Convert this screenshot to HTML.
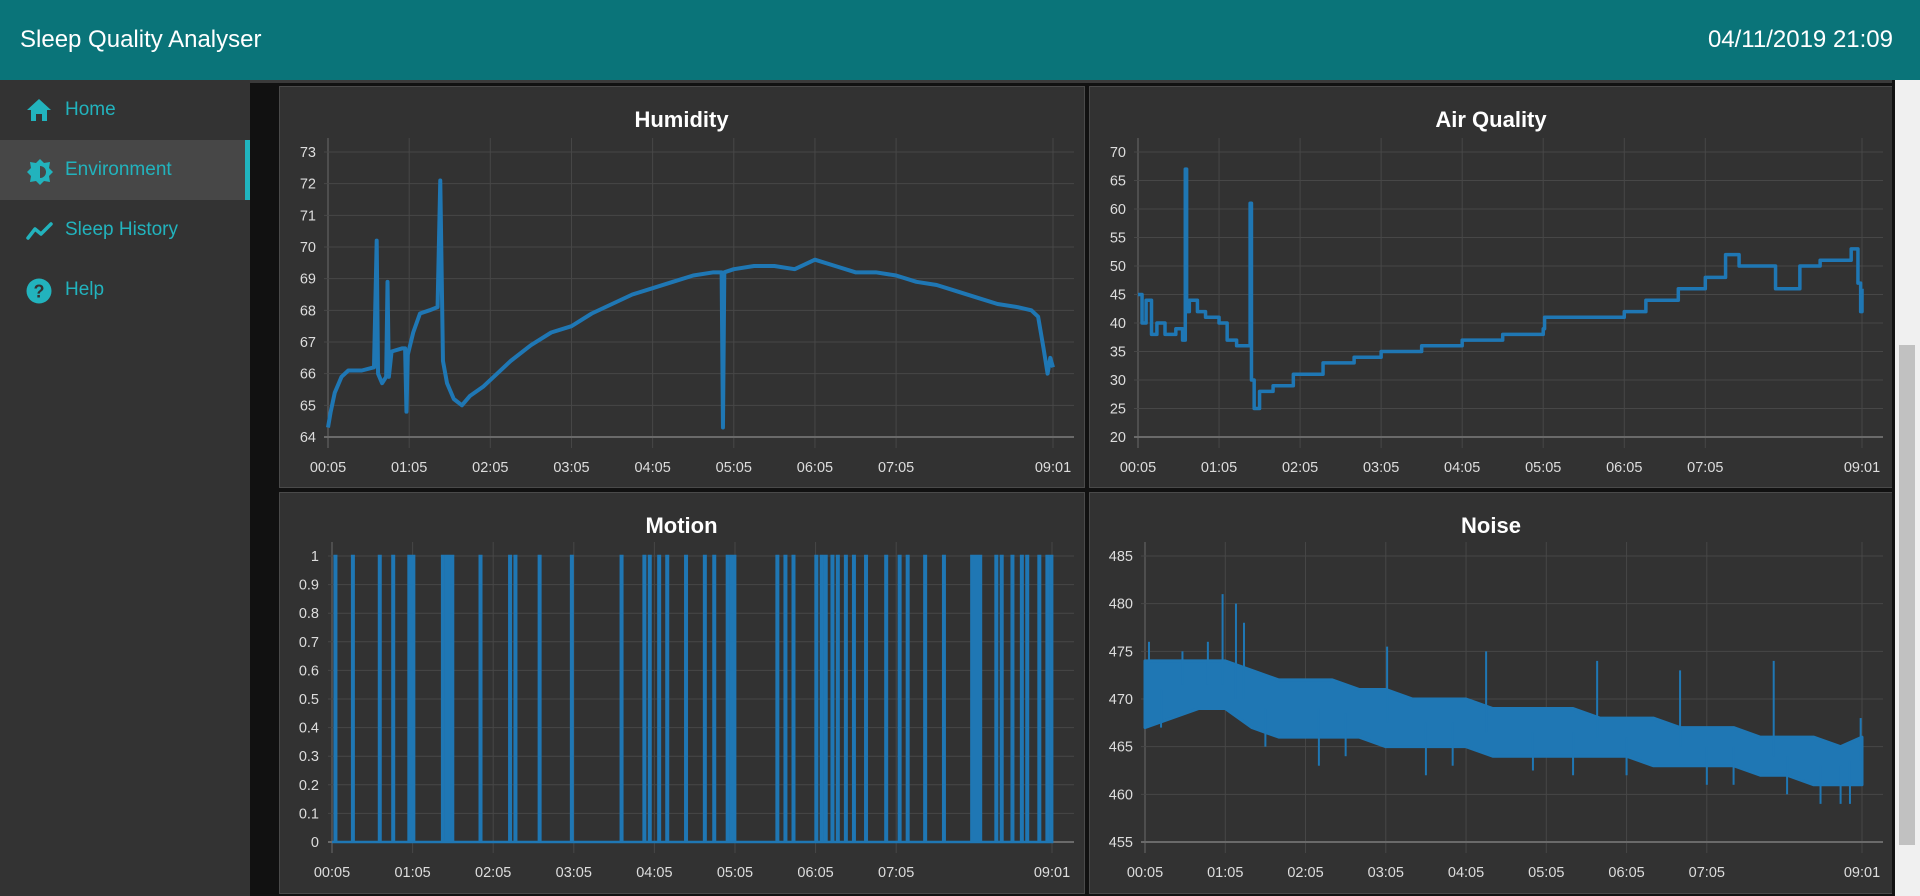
<!DOCTYPE html>
<html><head><meta charset="utf-8"><style>
html,body{margin:0;padding:0;width:1920px;height:896px;overflow:hidden;background:#111;font-family:"Liberation Sans",sans-serif}
#hdr{position:absolute;left:0;top:0;width:1920px;height:80px;background:#0a7479;color:#fff}
#hdr .t{position:absolute;left:20px;top:26px;font-size:24px}
#hdr .d{position:absolute;right:27px;top:26px;font-size:24px}
#side{position:absolute;left:0;top:80px;width:250px;height:816px;background:#333}
.item{position:absolute;left:0;width:250px;height:60px;color:#22b3bd;font-size:19px}
.item span{position:absolute;left:65px;top:19px}
.item svg{position:absolute;left:26px;top:18px}
.act{background:#474747}
.act:after{content:"";position:absolute;right:0;top:0;width:5px;height:60px;background:#20b5bf}
#sb{position:absolute;left:1895px;top:80px;width:25px;height:816px;background:#f0f0f0}
#thumb{position:absolute;left:4px;top:265px;width:16px;height:500px;background:#c1c1c1}
svg#charts{position:absolute;left:0;top:0}
</style></head><body>
<div id="hdr">
<div class="t">Sleep Quality Analyser</div>
<div class="d">04/11/2019 21:09</div>
</div>
<div id="side">
<div class="item" style="top:0"><svg width="26" height="24" viewBox="0 0 26 24"><path d="M13 1 L25 12 L21 12 L21 23 L16 23 L16 16 L10 16 L10 23 L5 23 L5 12 L1 12Z" fill="#22b3bd"/></svg><span>Home</span></div>
<div class="item act" style="top:60px"><svg width="28" height="28" viewBox="0 0 28 28"><polygon points="14,1 18,5 24,4 23,10 27,14 23,18 24,24 18,23 14,27 10,23 4,24 5,18 1,14 5,10 4,4 10,5" fill="#22b3bd"/><path d="M14 8 A6 6 0 0 1 14 20Z" fill="#474747"/></svg><span>Environment</span></div>
<div class="item" style="top:120px"><svg width="28" height="24" viewBox="0 0 28 24"><polyline points="2,20 9,11 15,16 25,6" fill="none" stroke="#22b3bd" stroke-width="3.5" stroke-linecap="round" stroke-linejoin="round"/></svg><span>Sleep History</span></div>
<div class="item" style="top:180px"><svg width="26" height="26" viewBox="0 0 26 26"><circle cx="13" cy="13" r="12.5" fill="#22b3bd"/><text x="13" y="19.5" text-anchor="middle" font-size="18" font-weight="bold" fill="#333" font-family="Liberation Sans">?</text></svg><span>Help</span></div>
</div>
<div id="sb"><div id="thumb"></div></div>
<svg id="charts" width="1892" height="896"></svg>
<script>
// Humidity
const humT=[0,2,5,10,15,25,34,36,37,40,43,44,45,47,55,57,58,59,63,68,75,81,83,85,88,93,99,105,115,125,135,150,165,180,195,210,225,240,255,270,285,291,292,293,300,315,330,345,360,375,390,405,420,435,450,465,480,495,510,520,525,529,532,534,536];
const humV=[64.3,64.8,65.4,65.9,66.1,66.1,66.2,70.2,66.0,65.7,65.9,68.9,65.9,66.7,66.8,66.8,64.8,66.6,67.3,67.9,68.0,68.1,72.1,66.4,65.7,65.2,65.0,65.3,65.6,66.0,66.4,66.9,67.3,67.5,67.9,68.2,68.5,68.7,68.9,69.1,69.2,69.2,64.3,69.2,69.3,69.4,69.4,69.3,69.6,69.4,69.2,69.2,69.1,68.9,68.8,68.6,68.4,68.2,68.1,68.0,67.8,66.8,66.0,66.5,66.2];
const humTicks=[64,65,66,67,68,69,70,71,72,73];
// Air quality
const airT=[0,3,6,10,14,20,28,33,35,36,38,44,50,60,66,73,81,83,84,86,90,100,115,137,160,180,210,240,270,300,301,330,360,376,400,420,435,445,460,472,490,505,517,528,533,535,536];
const airV=[45,40,44,38,40,38,39,37,67,42,44,42,41,40,37,36,36,61,30,25,28,29,31,33,34,35,36,37,38,39,41,41,42,44,46,48,52,50,50,46,50,51,51,53,47,42,46];
const airTicks=[20,25,30,35,40,45,50,55,60,65,70];
// Motion events (minutes after 00:05 where motion=1)
const motionEvents=[2,15,35,45,57,59,60,82,85,87,89,110,132,136,154,178,215,232,236,243,249,263,277,284,294,297,299,331,337,343,360,364,367,372,376,382,388,397,412,422,428,441,455,476,478,480,482,494,498,506,513,517,526,532,535];
const motionTicks=[0,0.1,0.2,0.3,0.4,0.5,0.6,0.7,0.8,0.9,1];
// Noise band
const noiseT=[0,20,40,60,80,100,120,140,160,180,200,220,240,260,280,300,320,340,360,380,400,420,440,460,480,500,520,536];
const noiseHi=[474,474,474,474,473,472,472,472,471,471,470,470,470,469,469,469,469,468,468,468,467,467,467,466,466,466,465,466];
const noiseLo=[467,468,469,469,467,466,466,466,466,465,465,465,465,464,464,464,464,464,464,463,463,463,463,462,462,461,461,461];
const noiseSpikeT=[3,28,47,58,68,74,130,181,210,255,320,338,400,440,505,520,535,527,470,12,90,150,230,290,360,420,480];
const noiseSpikeV=[476,475,476,481,480,478,463,475.5,462,475,462,474,473,461,459,459,468,459,474,467,465,464,463,462.5,462,461,460];
const noiseTicks=[455,460,465,470,475,480,485];
const timeTickT=[0,60,120,180,240,300,360,420,536];
const timeTickL=["00:05","01:05","02:05","03:05","04:05","05:05","06:05","07:05","09:01"];

const NS="http://www.w3.org/2000/svg";
const root=document.getElementById('charts');
function mk(tag,attrs,parent){const e=document.createElementNS(NS,tag);for(const k in attrs)e.setAttribute(k,attrs[k]);(parent||root).appendChild(e);return e;}

const strip=mk('rect',{x:250,y:80,width:1645,height:3,fill:'#3a3a3a'});



function panel(name,px,py,pw,ph,title,x0,x1,yTop,yBot,vMin,vMax,ticks,lblX){
  const g=mk('g',{});
  
  
  mk('rect',{x:px+0.5,y:py+0.5,width:pw,height:ph,fill:'#323232',stroke:'#4a4a4a'},g);
  const tt=mk('text',{x:px+pw/2,y:py+41,'text-anchor':'middle',fill:'#fff','font-size':22,'font-weight':'bold','font-family':'Liberation Sans'},g);
  tt.textContent=title;
  
  
  const sx=t=>x0+(x1-x0)*t/536;
  const sy=v=>yBot-(yBot-yTop)*(v-vMin)/(vMax-vMin);
  const gridTop=yTop-14, gridBot=yBot+11, right=px+pw-10;
  timeTickT.forEach((t,i)=>{
    const l=mk('line',{x1:sx(t),x2:sx(t),y1:gridTop,y2:gridBot,stroke:i==0?'#6a6a6a':'#474747','stroke-width':1},g);
    
    
    const tx=mk('text',{x:sx(t),y:yBot+35,'text-anchor':'middle',fill:'#ddd','font-size':14.5,'font-family':'Liberation Sans'},g);
    tx.textContent=timeTickL[i];
    
    
  });
  ticks.forEach((v,i)=>{
    const l=mk('line',{x1:x0-4,x2:right,y1:sy(v),y2:sy(v),stroke:i==0?'#6a6a6a':'#474747','stroke-width':i==0?2:1},g);
    
    
    const tx=mk('text',{x:lblX,y:sy(v)+5,'text-anchor':'end',fill:'#ddd','font-size':14.5,'font-family':'Liberation Sans'},g);
    tx.textContent=String(v);
    
    
  });
  return {g,sx,sy};
}

// Humidity
let c=panel('humidity',279,86,805,401,'Humidity',328,1053,152,437,64,73,humTicks,316);
let pl=mk('polyline',{points:humT.map((t,i)=>c.sx(t)+','+c.sy(humV[i])).join(' '),fill:'none',stroke:'#1f77b4','stroke-width':4,'stroke-linejoin':'round'},c.g);



// Air quality
c=panel('air-quality',1089,86,804,401,'Air Quality',1138,1862,152,437,20,70,airTicks,1126);
let pts=[];airT.forEach((t,i)=>{if(i>0)pts.push(c.sx(t)+','+c.sy(airV[i-1]));pts.push(c.sx(t)+','+c.sy(airV[i]));});
pl=mk('polyline',{points:pts.join(' '),fill:'none',stroke:'#1f77b4','stroke-width':3.5,'stroke-linejoin':'round'},c.g);



// Motion
c=panel('motion',279,492,805,401,'Motion',332,1052,556,842,0,1,motionTicks,319);
pts=[c.sx(0)+','+c.sy(0)];
motionEvents.forEach(t=>{pts.push(c.sx(t)+','+c.sy(0),c.sx(t)+','+c.sy(1),c.sx(t)+1.5+','+c.sy(1),c.sx(t)+1.5+','+c.sy(0));});
pts.push(c.sx(536)+','+c.sy(0));
pl=mk('polyline',{points:pts.join(' '),fill:'none',stroke:'#1f77b4','stroke-width':2.5},c.g);



// Noise
c=panel('noise',1089,492,804,401,'Noise',1145,1862,556,842,455,485,noiseTicks,1133);
const bandPts=noiseT.map((t,i)=>c.sx(t)+','+c.sy(noiseHi[i])).concat(noiseT.slice().reverse().map((t,j)=>{const i=noiseT.length-1-j;return c.sx(t)+','+c.sy(noiseLo[i]);}));
pl=mk('polygon',{points:bandPts.join(' '),fill:'#1f77b4',stroke:'#1f77b4','stroke-width':3,'stroke-linejoin':'round'},c.g);


noiseSpikeT.forEach((t,i)=>{
  const k=noiseT.findIndex(x=>x>=t);const mid=(noiseHi[k]+noiseLo[k])/2;
  const l=mk('line',{x1:c.sx(t),x2:c.sx(t),y1:c.sy(mid),y2:c.sy(noiseSpikeV[i]),stroke:'#1f77b4','stroke-width':2},c.g);
  
  
});
</script>
</body></html>
